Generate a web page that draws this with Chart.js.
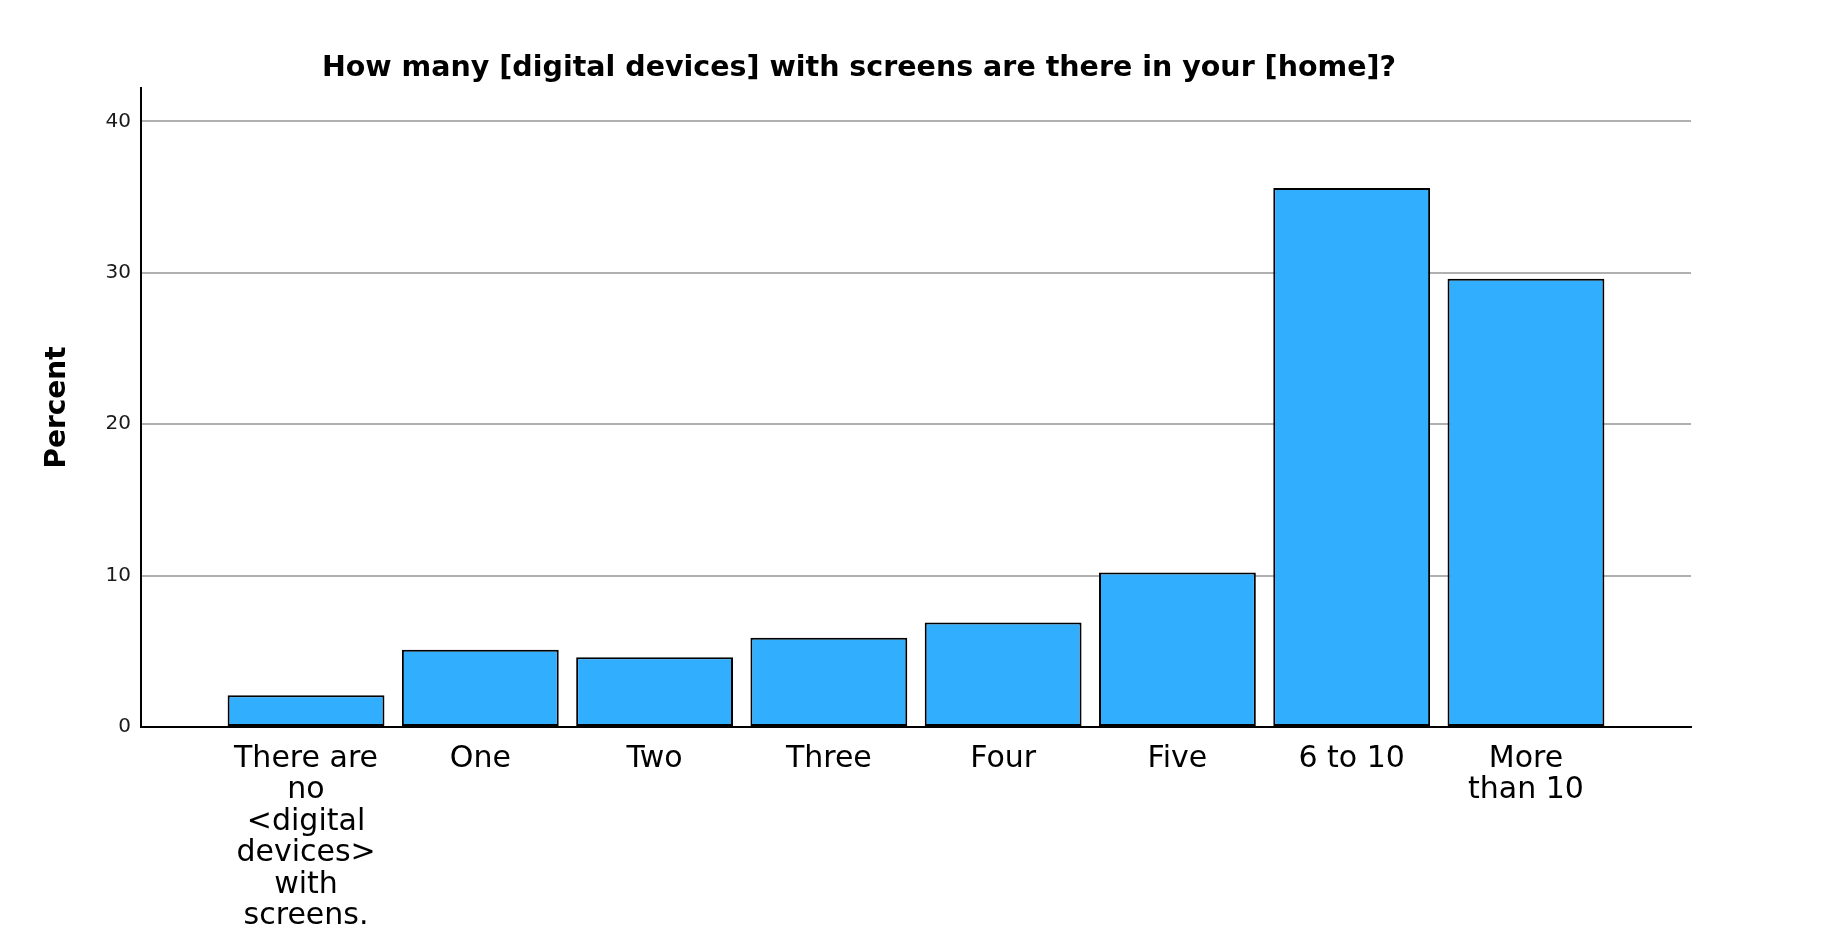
<!DOCTYPE html>
<html>
<head>
<meta charset="utf-8">
<title>Digital devices with screens</title>
<script src="https://cdn.jsdelivr.net/npm/chart.js@4.4.1/dist/chart.umd.min.js"></script>
<style>
    html, body { margin: 0; padding: 0; background: #fff; }
    #wrap { width: 1834px; height: 936px; position: relative; }
</style>
</head>
<body>
<div id="wrap"><canvas id="devicesChart"></canvas></div>
<script>
// Chart data
const chartTitle = 'How many [digital devices] with screens are there in your [home]?';
const categories = [
    ['There are', 'no', '<digital', 'devices>', 'with', 'screens.'],
    'One', 'Two', 'Three', 'Four', 'Five', '6 to 10',
    ['More', 'than 10']
];
const percents = [2.1, 5.1, 4.6, 5.9, 6.9, 10.2, 35.6, 29.6];
const yTicks = [0, 10, 20, 30, 40];
const yTitle = 'Percent';

const font = 'DejaVu Sans';

// bars sit on a numeric axis (1..n) so the side gaps can match the original
const points = percents.map((val, index) => ({ x: index + 1, y: val }));

const ctx = document.getElementById('devicesChart').getContext('2d');

const devicesChart = new Chart(ctx, {
    type: 'bar',
    data: {
        datasets: [{
            label: yTitle,
            data: points,
            backgroundColor: '#32AEFF',
            borderColor: '#000',
            borderWidth: 2,
            borderSkipped: false,
            barPercentage: 0.9,
            categoryPercentage: 1
        }]
    },
    options: {
        responsive: true,
        maintainAspectRatio: false,
        animation: false,
        layout: {
            padding: { left: 27, right: 143, top: 0, bottom: 0 }
        },
        plugins: {
            legend: { display: false },
            tooltip: { enabled: false },
            title: {
                display: true,
                text: chartTitle,
                color: '#000',
                font: { family: font, size: 28.5, weight: 'bold', lineHeight: 1.2 },
                padding: { top: 51, bottom: 2.8 }
            }
        },
        scales: {
            x: {
                type: 'linear',
                offset: false, // no extra half-bar padding, min/max give the gaps
                min: 0.053,
                max: 8.947,
                grid: { display: false, offset: false },
                border: { display: true, color: '#000', width: 2 },
                afterBuildTicks: function (scale) {
                    scale.ticks = categories.map((c, i) => ({ value: i + 1 }));
                },
                afterFit: function (scale) {
                    scale.height = 209;
                },
                ticks: {
                    autoSkip: false,
                    maxRotation: 0,
                    minRotation: 0,
                    padding: 8,
                    color: '#000',
                    font: { family: font, size: 30, lineHeight: 1.05 },
                    callback: function (value) {
                        return categories[value - 1];
                    }
                }
            },
            y: {
                min: 0,
                max: 42.2,
                grid: {
                    color: '#b0b0b0',
                    lineWidth: 2,
                    drawTicks: false
                },
                border: { display: true, color: '#000', width: 2 },
                afterBuildTicks: function (scale) {
                    scale.ticks = yTicks.map(v => ({ value: v }));
                },
                afterFit: function (scale) {
                    scale.width = 114;
                },
                ticks: {
                    padding: 10,
                    color: '#1a1a1a',
                    font: { family: font, size: 20 }
                },
                title: {
                    display: true,
                    text: yTitle,
                    color: '#000',
                    font: { family: font, size: 28, weight: 'bold', lineHeight: 1.2 },
                    padding: { top: 14, bottom: 0 }
                }
            }
        }
    }
});
</script>
</body>
</html>
